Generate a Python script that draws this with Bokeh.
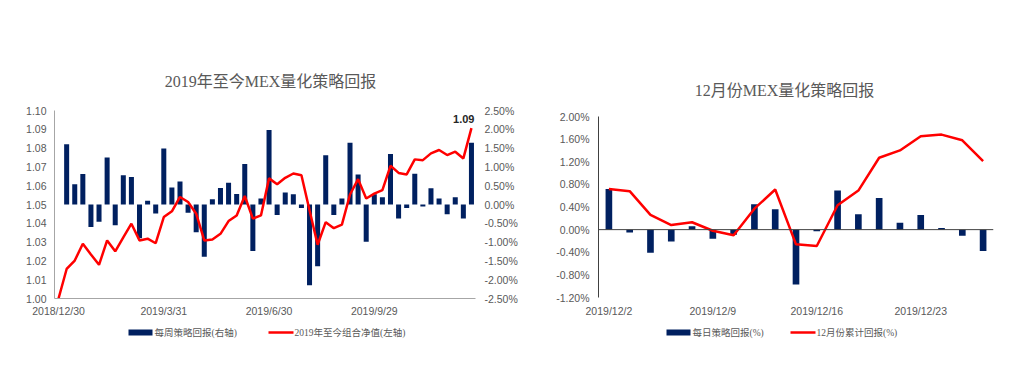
import pandas as pd
from bokeh.plotting import figure
from bokeh.models import (Range1d, LinearAxis, FixedTicker, PrintfTickFormatter,
                          Label, Span)
from bokeh.layouts import row, column
from bokeh.embed import file_html
from bokeh.resources import INLINE

# ---------------- data ----------------
weeks = [f"{d.year}/{d.month}/{d.day}" for d in pd.date_range("2018-12-30", periods=52, freq="7D")]
nav = [1.000, 1.0157, 1.0202, 1.0291, 1.0234, 1.0179, 1.0309, 1.0251, 1.0325, 1.0398, 1.0309, 1.0318, 1.0294,
       1.0433, 1.0464, 1.0540, 1.0513, 1.0451, 1.0309, 1.0314, 1.0344, 1.0412, 1.0442, 1.0545, 1.0425, 1.0442,
       1.0639, 1.0608, 1.0642, 1.0665, 1.0656, 1.0469, 1.0286, 1.0406, 1.0374, 1.0393, 1.0553, 1.0635, 1.0532,
       1.0558, 1.0576, 1.0706, 1.0668, 1.0660, 1.0740, 1.0736, 1.0772, 1.0790, 1.0763, 1.0781, 1.0745, 1.0906]
weekly_ret = [1.60, 0.54, 0.81, -0.60, -0.46, 1.25, -0.55, 0.78, 0.73, -0.90, 0.10, -0.24,
              1.49, 0.45, 0.61, -0.22, -0.74, -1.39, 0.14, 0.44, 0.58, 0.28, 1.08, -1.24, 0.16,
              1.98, -0.28, 0.32, 0.27, -0.09, -2.15, -1.64, 1.31, -0.28, 0.16, 1.64, 0.80, -0.99,
              0.27, 0.19, 1.34, -0.37, -0.09, 0.82, -0.05, 0.43, 0.16, -0.26, 0.19, -0.37, 1.64]
week_tick_every = 13

days = ["2019/12/2", "2019/12/3", "2019/12/4", "2019/12/5", "2019/12/6",
        "2019/12/9", "2019/12/10", "2019/12/11", "2019/12/12", "2019/12/13",
        "2019/12/16", "2019/12/17", "2019/12/18", "2019/12/19", "2019/12/20",
        "2019/12/23", "2019/12/24", "2019/12/26", "2019/12/27"]
daily_ret = [0.72, -0.05, -0.41, -0.21, 0.06, -0.16, -0.09, 0.45, 0.36, -0.97,
             -0.03, 0.69, 0.27, 0.56, 0.12, 0.26, 0.03, -0.11, -0.38]
cum_ret = [0.72, 0.68, 0.26, 0.08, 0.13, -0.02, -0.10, 0.37, 0.71, -0.26,
           -0.29, 0.43, 0.69, 1.27, 1.40, 1.65, 1.68, 1.58, 1.21]
day_tick_every = 5

title1 = "2019年至今MEX量化策略回报"
title2 = "12月份MEX量化策略回报"
legend1 = ["每周策略回报(右轴)", "2019年至今组合净值(左轴)"]
legend2 = ["每日策略回报(%)", "12月份累计回报(%)"]

# ---------------- style ----------------
NAVY = "#002060"
RED = "#FF0000"
GRAY = "#595959"
AX_FONT = "Liberation Sans"
CJK_FONT = "Liberation Serif, Noto Sans CJK SC"
FS = "10.5px"
W1, W2 = 538, 486
H_TITLE, H_MAIN, H_LEG = 100, 220, 60
B1 = (54, 63)   # left / right borders of chart 1
B2 = (60, 31)   # left / right borders of chart 2


def style_axis(ax, standoff):
    ax.major_tick_line_color = None
    ax.minor_tick_line_color = None
    ax.major_tick_out = 0
    ax.major_tick_in = 0
    ax.minor_tick_out = 0
    ax.minor_tick_in = 0
    ax.major_label_text_font = AX_FONT
    ax.major_label_text_font_size = FS
    ax.major_label_text_color = GRAY
    ax.major_label_standoff = standoff
    ax.axis_line_color = "#A6A6A6"


def blank_fig(w, h, borders):
    # pixel-coordinate canvas whose frame lines up with the chart frame below it
    bl, br = borders
    f = figure(width=w, height=h, output_backend="svg", toolbar_location=None,
               x_range=Range1d(bl, w - br), y_range=Range1d(h, 0),
               x_axis_location=None, y_axis_location=None,
               min_border_left=bl, min_border_right=br,
               min_border_top=0, min_border_bottom=0)
    f.outline_line_color = None
    f.grid.visible = False
    return f


def title_fig(w, borders, text, cx, cy):
    f = blank_fig(w, H_TITLE, borders)
    f.add_layout(Label(x=cx, y=cy, text=text, text_align="center", text_baseline="middle",
                       text_font=CJK_FONT, text_font_size="16px", text_color=GRAY))
    return f


def legend_fig(w, borders, labels, x_bar, x_line, cy):
    f = blank_fig(w, H_LEG, borders)
    f.quad(left=[x_bar], right=[x_bar + 24], top=[cy - 3], bottom=[cy + 3],
           fill_color=NAVY, line_color=None)
    f.segment(x0=[x_line], x1=[x_line + 25], y0=[cy], y1=[cy], line_color=RED, line_width=2.5)
    for x, t in ((x_bar + 26, labels[0]), (x_line + 26, labels[1])):
        f.add_layout(Label(x=x, y=cy, text=t, text_align="left", text_baseline="middle",
                           text_font=CJK_FONT, text_font_size="9.5px", text_color=GRAY))
    return f


# ---------------- chart 1 ----------------
n1 = len(weeks)
p1 = figure(width=W1, height=H_MAIN, output_backend="svg", toolbar_location=None,
            x_range=Range1d(-0.5, n1 - 0.5), y_range=Range1d(1.00, 1.10),
            min_border_left=B1[0], min_border_right=B1[1], min_border_top=10, min_border_bottom=22)
p1.extra_y_ranges = {"pct": Range1d(-2.5, 2.5)}
p1.outline_line_color = None
p1.grid.visible = False

p1.vbar(x=list(range(1, n1)), top=weekly_ret, bottom=0, width=0.62, y_range_name="pct",
        fill_color=NAVY, line_color=None)
p1.line(x=list(range(n1)), y=nav, line_color=RED, line_width=2.5)

p1.xaxis.ticker = FixedTicker(ticks=list(range(0, n1, week_tick_every)))
p1.xaxis.major_label_overrides = {i: weeks[i] for i in range(0, n1, week_tick_every)}
style_axis(p1.xaxis[0], 6)
p1.yaxis.ticker = FixedTicker(ticks=[round(1.00 + 0.01 * i, 2) for i in range(11)])
p1.yaxis.formatter = PrintfTickFormatter(format="%.2f")
style_axis(p1.yaxis[0], 8)

rax = LinearAxis(y_range_name="pct", ticker=FixedTicker(ticks=[-2.5 + 0.5 * i for i in range(11)]),
                 formatter=PrintfTickFormatter(format="%.2f%%"))
style_axis(rax, 9)
rax.axis_line_color = None
p1.add_layout(rax, "right")

p1.add_layout(Label(x=n1 - 1, y=nav[-1], text=f"{nav[-1]:.2f}", text_align="right",
                    text_baseline="alphabetic", x_offset=3, y_offset=9,
                    text_font=AX_FONT, text_font_size="11px", text_font_style="bold",
                    text_color="#262626"))

t1 = title_fig(W1, B1, title1, 270, 81)
l1 = legend_fig(W1, B1, legend1, 128, 268, 332 - H_TITLE - H_MAIN)

# ---------------- chart 2 ----------------
n2 = len(days)
p2 = figure(width=W2, height=H_MAIN, output_backend="svg", toolbar_location=None,
            x_range=Range1d(-0.5, n2 - 0.5), y_range=Range1d(-1.2, 2.0),
            min_border_left=B2[0], min_border_right=B2[1], min_border_top=16, min_border_bottom=23)
p2.outline_line_color = None
p2.grid.visible = False

p2.vbar(x=list(range(n2)), top=daily_ret, bottom=0, width=0.32,
        fill_color=NAVY, line_color=None)
p2.add_layout(Span(location=0, dimension="width", line_color="#404040", line_width=1))
p2.line(x=list(range(n2)), y=cum_ret, line_color=RED, line_width=2.5)

p2.xaxis.ticker = FixedTicker(ticks=list(range(0, n2, day_tick_every)))
p2.xaxis.major_label_overrides = {i: days[i] for i in range(0, n2, day_tick_every)}
style_axis(p2.xaxis[0], 7)
p2.xaxis.axis_line_color = None
p2.yaxis.ticker = FixedTicker(ticks=[round(-1.2 + 0.4 * i, 2) for i in range(9)])
p2.yaxis.formatter = PrintfTickFormatter(format="%.2f%%")
style_axis(p2.yaxis[0], 9)
p2.yaxis.axis_line_color = "#404040"

t2 = title_fig(W2, B2, title2, 784 - W1, 90)
l2 = legend_fig(W2, B2, legend2, 666 - W1, 790 - W1, 332 - H_TITLE - H_MAIN)

layout = row(column(t1, p1, l1), column(t2, p2, l2))
open("out.html", "w").write(file_html(layout, INLINE))
